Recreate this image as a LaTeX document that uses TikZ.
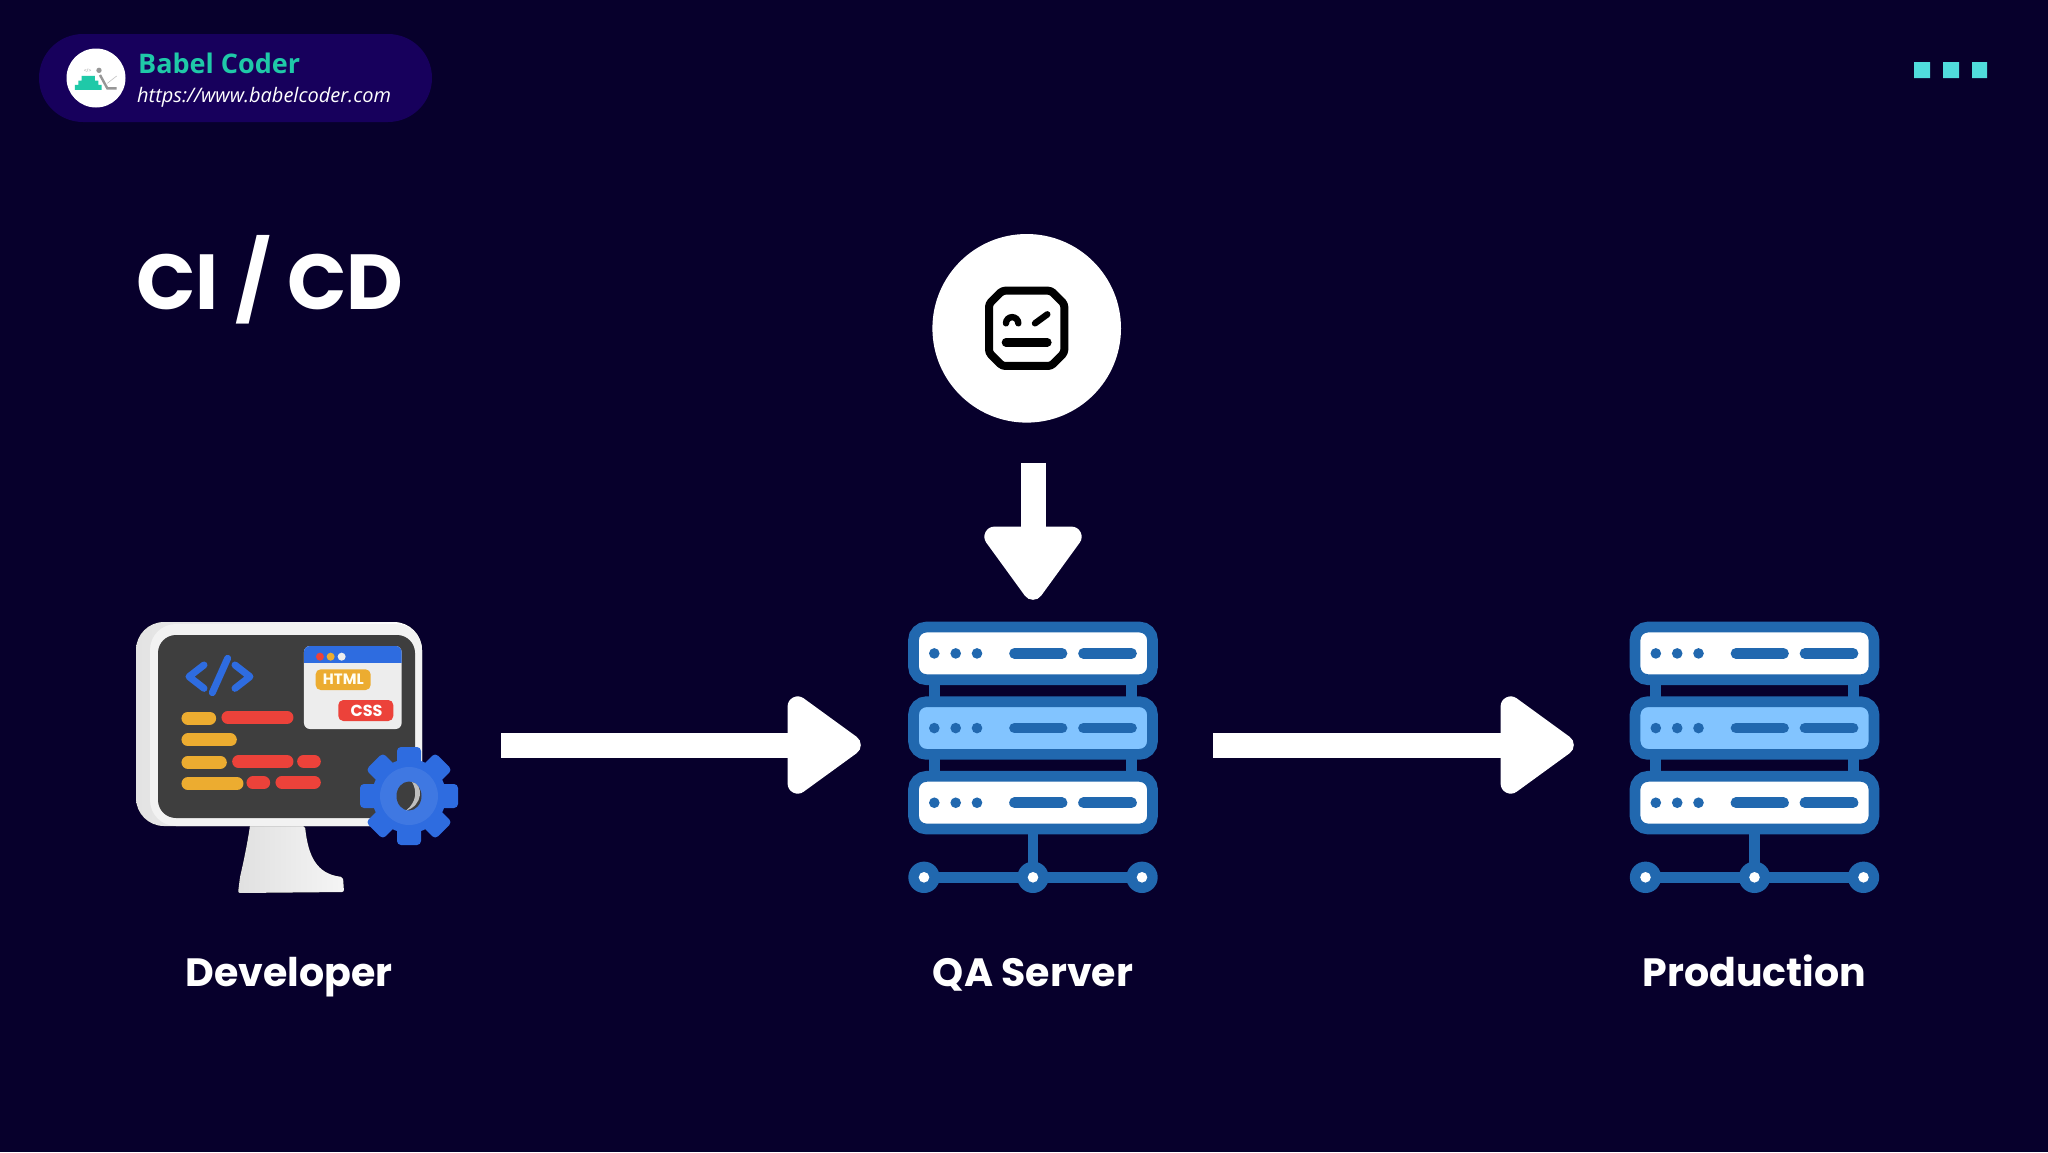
\documentclass[tikz,border=0pt]{standalone}
\usepackage{fontspec}
\usetikzlibrary{arrows.meta}
\setmainfont{Open Sans}
\newfontfamily\pop{Poppins}
\definecolor{bgnavy}{RGB}{7,0,44}
\definecolor{pill}{RGB}{23,0,92}
\definecolor{teal}{RGB}{31,201,168}
\definecolor{sq}{RGB}{80,220,220}
\definecolor{rackb}{RGB}{33,104,175}
\definecolor{rackl}{RGB}{130,196,255}
\definecolor{scr}{RGB}{62,62,62}
\definecolor{cblue}{RGB}{46,108,224}
\definecolor{cyel}{RGB}{236,172,48}
\definecolor{cred}{RGB}{236,66,58}
\definecolor{cgray}{RGB}{150,150,150}
\tikzset{
  flow/.style={line width=25pt,white,-{Triangle[round,line width=24pt,length=81pt,width=111pt]}},
  rackline/.style={draw=rackb,line width=10.7pt},
  rackdash/.style={rackb,line width=10.7pt,line cap=round},
  bigtext/.style={font=\pop\bfseries\fontsize{39.5}{44}\selectfont,text=white,inner sep=0pt,anchor=base},
  bar/.style={line width=13pt,line cap=round},
  rack/.pic={
    \draw[rackline] (-98.7,660) -- (-98.7,800) (98.7,660) -- (98.7,800);
    \draw[rackline] (0,830) -- (0,877.3) (-109,877.3) -- (109,877.3);
    \foreach \yo/\fc in {0/white,74.67/rackl,149.33/white}{
      \draw[rackline,fill=\fc,rounded corners=13pt] (-119.5,627+\yo) rectangle (119.5,679.7+\yo);
      \foreach \xo in {-98.7,-77.3,-56}{\fill[rackb] (\xo,653.4+\yo) circle (5.3pt);}
      \draw[rackdash] (-18.5,653.4+\yo) -- (29,653.4+\yo);
      \draw[rackdash] (50.5,653.4+\yo) -- (98.5,653.4+\yo);
    }
    \foreach \xo in {-109,0,109}{
      \fill[rackb] (\xo,877.3) circle (15.7pt);
      \fill[white] (\xo,877.3) circle (5.3pt);
    }
  }
}
\begin{document}
\begin{tikzpicture}[x=1pt,y=-1pt]
\useasboundingbox (0,0) rectangle (2048,1152);
\fill[bgnavy] (0,0) rectangle (2048,1152);

% header pill
\fill[pill,rounded corners=44pt] (39,34) rectangle (432,122);
\fill[white] (96,78) circle (29.5pt);
\begin{scope}[shift={(20,20)},x=0.3333pt,y=-0.3333pt]
  \fill[teal] (165,195) rectangle (245,210) (175,182) rectangle (235,195) (185,168) rectangle (225,182);
  \fill[cgray] (237,151) circle (8);
  \draw[cgray,line width=2.4pt] (240,165) -- (262,205) -- (290,205);
  \draw[cgray!60,line width=.6pt] (262,190) -- (290,168);
  \node (logotag) at (203,151) {\fontsize{5}{5}\selectfont\textcolor{cgray}{</>}};
\end{scope}
\node[anchor=base west,inner sep=0pt,text=teal] (brand) at (138,73) {\fontsize{27}{30}\selectfont\bfseries Babel Coder};
\node[anchor=base west,inner sep=0pt,text=white] (url) at (137,102) {\fontsize{20}{24}\selectfont\itshape https://www.babelcoder.com};

% three squares
\fill[sq] (1914,62) rectangle (1930,78) (1943,62) rectangle (1959,78) (1972,62) rectangle (1987,78);

% title
\node[anchor=base west,inner sep=0pt,text=white] (title) at (136,309) {\pop\bfseries\fontsize{78}{84}\selectfont CI / CD};

% robot
\node[circle,fill=white,minimum size=188.6pt,inner sep=0pt] (bot) at (1026.7,328.3) {};
\begin{scope}[shift={(920,220)},x=0.3333pt,y=-0.3333pt]
  \draw[black,line width=8pt,line join=round,rounded corners=3pt] (247,212) -- (393,212) -- (433,252) -- (433,398) -- (393,438) -- (247,438) -- (207,398) -- (207,252) -- cycle;
  \draw[black,line width=6.4pt,line cap=round] (258,310) arc[start angle=180,end angle=360,radius=18.5] ;
  \draw[black,line width=6.4pt,line cap=round] (345,310) -- (382,283);
  \draw[black,line width=8.6pt,line cap=round] (258,367) -- (382,367);
\end{scope}

% monitor
\node[inner sep=0pt,minimum width=325pt,minimum height=271pt] (dev) at (298.5,757.5) {};
\fill[left color=white!88!black,right color=white!96!black,rounded corners=2pt] (250,826) -- (305,826) .. controls (308,855) and (316,874) .. (343,877) -- (344,892) -- (238,893) -- (240,877) .. controls (244,860) and (247,845) .. (250,826) -- cycle;
\fill[left color=black!11,right color=white,rounded corners=28pt] (136,622) rectangle (422,826);
\fill[white!95!black,rounded corners=26pt] (150,624) rectangle (422,826);
\fill[scr,rounded corners=18pt] (158,635) rectangle (415,818);
\begin{scope}[shift={(120,610)},x=0.3333pt,y=-0.3333pt]
  \draw[cblue,line width=7pt,line join=round,line cap=round] (252,165) -- (207,200) -- (252,235);
  \draw[cblue,line width=7pt,line cap=round] (323,145) -- (277,248);
  \draw[cblue,line width=7pt,line join=round,line cap=round] (345,165) -- (390,200) -- (345,235);
  \foreach \xa/\xb/\yc/\col in {
    204/269/324/cyel, 324/501/322/cred, 204/331/390/cyel, 204/301/457/cyel,
    356/501/455/cred, 551/583/454/cred, 204/351/521/cyel, 399/431/519/cred, 486/583/517/cred}{
    \draw[bar,\col] (\xa,\yc) -- (\xb,\yc);
  }
  \fill[white!93!black,rounded corners=6pt] (552,108) rectangle (845,357);
  \begin{scope}
    \clip[rounded corners=6pt] (552,108) rectangle (845,357);
    \fill[cblue] (552,108) rectangle (845,160);
  \end{scope}
  \fill[cred] (600,140) circle (4pt);
  \fill[cyel] (632,140) circle (4pt);
  \fill[white!93!black] (665,140) circle (4pt);
  \fill[cyel,rounded corners=5pt] (587,178) rectangle (752,240);
  \node[text=white!95!yellow] (htmltag) at (670,208) {\pop\bfseries\fontsize{15}{15}\selectfont HTML};
  \fill[cred,rounded corners=5pt] (655,270) rectangle (820,333);
  \node[text=white] (csstag) at (740,302) {\pop\bfseries\fontsize{16}{16}\selectfont CSS};
\end{scope}
% gear
\begin{scope}[shift={(409,796)}]
  \foreach \a in {0,45,...,315}{
    \fill[cblue,rotate=\a,rounded corners=4pt] (-12,-30) rectangle (12,-49);
  }
  \fill[cblue] (0,0) circle (37pt);
  \fill[cblue!92!white] (0,0) circle (29pt);
  \fill[scr] (0,0) ellipse [x radius=12.5pt,y radius=14.5pt];
  \fill[black!25] (3,-14) .. controls (15,-12) and (14,10) .. (-3,14.5) .. controls (8,6) and (8,-6) .. (3,-14) -- cycle;
\end{scope}

% servers
\pic at (1033,0) {rack};
\pic at (1754.5,0) {rack};
\node[inner sep=0pt,minimum width=250pt,minimum height=271pt] (qa) at (1033,757.5) {};
\node[inner sep=0pt,minimum width=250pt,minimum height=271pt] (prod) at (1754.5,757.5) {};

% connectors
\draw[flow,shorten <=40pt,shorten >=47pt] (dev.east |- 0,745) -- (qa.west |- 0,745);
\draw[flow,shorten <=55pt,shorten >=55.5pt] (qa.east |- 0,745) -- (prod.west |- 0,745);
\draw[flow,shorten <=40pt,shorten >=22pt] (qa.north |- bot.south) -- (qa.north);

% labels
\node[bigtext] (ldev) at (289,986) {Developer};
\node[bigtext] (lqa) at (1033,986) {QA Server};
\node[bigtext] (lprod) at (1754.5,986) {Production};
\end{tikzpicture}
\end{document}
